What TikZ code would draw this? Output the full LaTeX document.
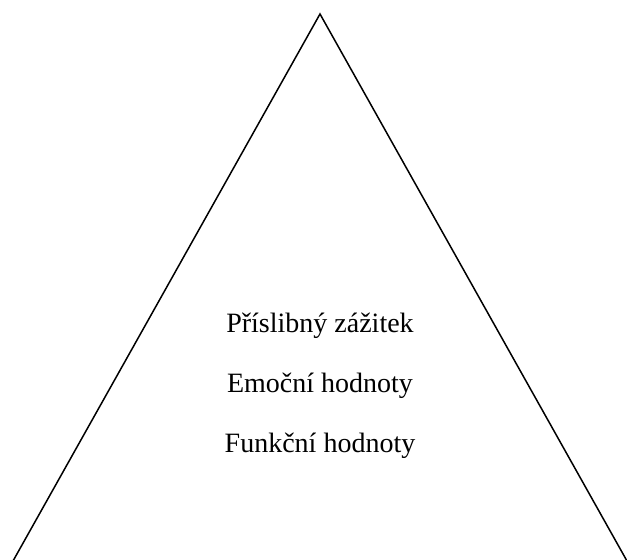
\documentclass[tikz,border=0pt]{standalone}
\usepackage{fontspec}
\setmainfont{Liberation Serif}
\begin{document}
\begin{tikzpicture}[x=1pt,y=-1pt,
  lbl/.style={anchor=base,inner sep=0pt,font=\fontsize{28}{32}\selectfont},
  edge/.style={line width=1.5pt}]
\useasboundingbox (0,0) rectangle (627,560);
\coordinate (apex) at (320,14);
\coordinate (bl) at (13,561);
\coordinate (br) at (627,561);
\clip (0,0) rectangle (627,560);
\draw[edge] (bl) -- (apex) -- (br);
\node[lbl] (t1) at (320,332) {Příslibný zážitek};
\node[lbl] (t2) at (320,392) {Emoční hodnoty};
\node[lbl] (t3) at (320,452) {Funkční hodnoty};
\end{tikzpicture}
\end{document}
